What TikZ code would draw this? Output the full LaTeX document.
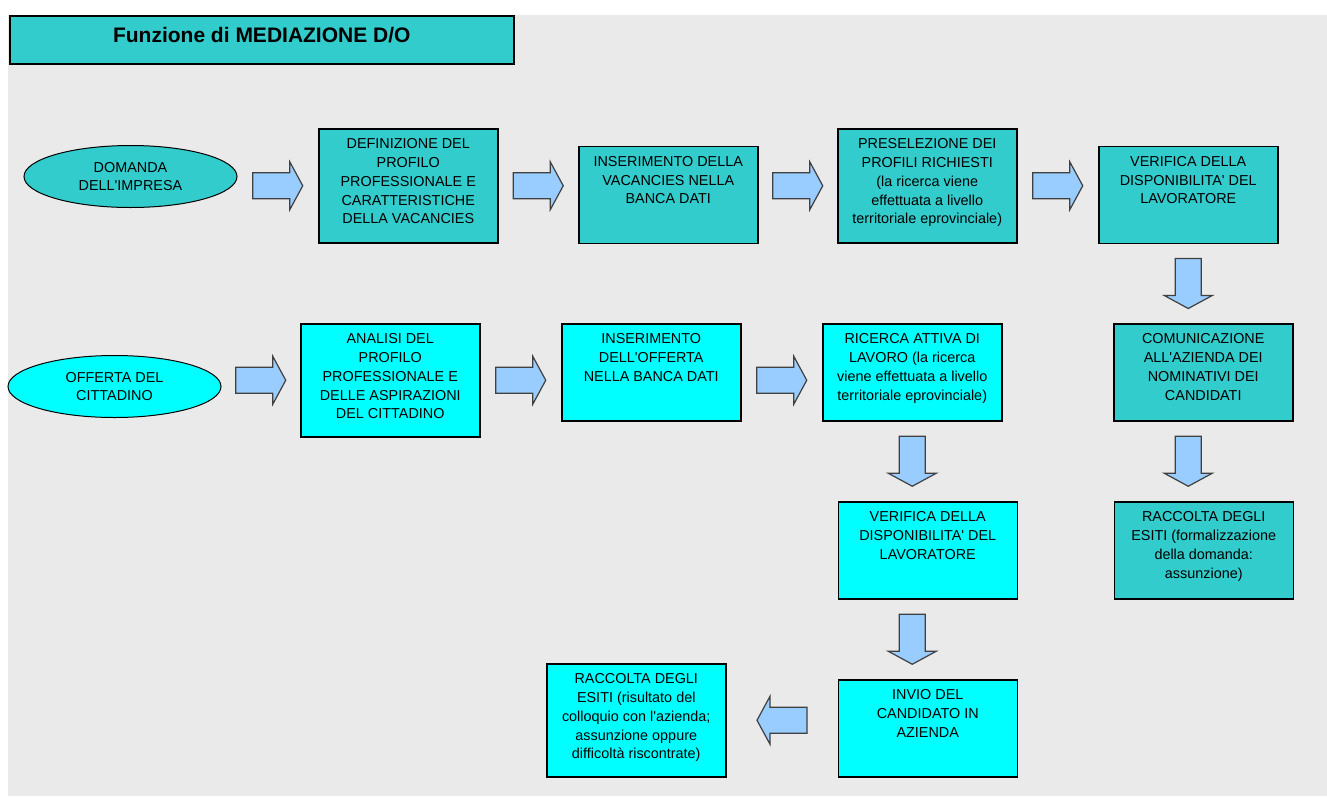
\documentclass[tikz,border=0pt]{standalone}
\usepackage{fontspec}
\setmainfont{Liberation Sans}
\usepackage{tikz}
\usetikzlibrary{calc,shapes.geometric}

\definecolor{tealbox}{RGB}{51,204,204}
\definecolor{cyanbox}{RGB}{0,255,255}
\definecolor{arrowblue}{RGB}{153,204,255}
\definecolor{bggray}{RGB}{234,234,234}

\begin{document}
\begin{tikzpicture}[x=1pt,y=-1pt,
  font=\fontsize{14.4}{18.8}\selectfont,
  stage/.style={draw, line width=1.5pt, anchor=north west, minimum width=179pt, minimum height=#1, inner sep=0pt},
  txt/.style={anchor=north, align=center, inner sep=0pt, yshift=-10.5pt},
  oval/.style={ellipse, draw, line width=1pt, minimum width=213pt, minimum height=62pt, inner sep=0pt, align=center},
  blockarrow/.pic={\draw[fill=arrowblue, draw=black!75, line width=1.2pt]
    (-25,-13) -- (12,-13) -- (12,-24) -- (25,0) -- (12,24) -- (12,13) -- (-25,13) -- cycle;}]
  \useasboundingbox (0,0) rectangle (1327,796);
  \fill[bggray] (8,15) rectangle (1327,796);

  % Title
  \node[stage=48pt, minimum width=504pt, fill=tealbox,
    label={[txt, yshift=-1.2pt, font=\bfseries\fontsize{21}{24}\selectfont]north:{Funzione di MEDIAZIONE D/O}}] (title) at (9,15) {};

  % Domanda dell'impresa
  \node[oval, fill=tealbox] (dom) at (130.5,176.5) {DOMANDA\\DELL\textquotesingle IMPRESA};
  \node[stage=114pt, fill=tealbox, label={[txt]north:{DEFINIZIONE DEL\\PROFILO\\PROFESSIONALE E\\CARATTERISTICHE\\DELLA VACANCIES}}] (def) at (318,128) {};
  \node[stage=97pt, fill=tealbox, label={[txt]north:{INSERIMENTO DELLA\\VACANCIES NELLA\\BANCA DATI}}] (vac) at (578,145.5) {};
  \node[stage=114pt, fill=tealbox, label={[txt]north:{PRESELEZIONE DEI\\PROFILI RICHIESTI\\(la ricerca viene\\effettuata a livello\\territoriale eprovinciale)}}] (pre) at (837,128) {};
  \node[stage=97pt, fill=tealbox, label={[txt]north:{VERIFICA DELLA\\DISPONIBILITA\textquotesingle{} DEL\\LAVORATORE}}] (ver) at (1098,145.5) {};
  \node[stage=97pt, fill=tealbox, label={[txt]north:{COMUNICAZIONE\\ALL\textquotesingle AZIENDA DEI\\NOMINATIVI DEI\\CANDIDATI}}] (com) at (1113,323) {};
  \node[stage=97pt, fill=tealbox, label={[txt]north:{RACCOLTA DEGLI\\ESITI (formalizzazione\\della domanda:\\assunzione)}}] (esa) at (1113.5,501) {};

  % Offerta del cittadino
  \node[oval, fill=cyanbox] (off) at (114.5,386.5) {OFFERTA DEL\\CITTADINO};
  \node[stage=113pt, fill=cyanbox, label={[txt]north:{ANALISI DEL\\PROFILO\\PROFESSIONALE E\\DELLE ASPIRAZIONI\\DEL CITTADINO}}] (ana) at (300,323) {};
  \node[stage=97pt, fill=cyanbox, label={[txt]north:{INSERIMENTO\\DELL\textquotesingle OFFERTA\\NELLA BANCA DATI}}] (odb) at (561,323) {};
  \node[stage=97pt, fill=cyanbox, label={[txt]north:{RICERCA ATTIVA DI\\LAVORO (la ricerca\\viene effettuata a livello\\territoriale eprovinciale)}}] (ric) at (822,323) {};
  \node[stage=97pt, fill=cyanbox, label={[txt]north:{VERIFICA DELLA\\DISPONIBILITA\textquotesingle{} DEL\\LAVORATORE}}] (disp) at (837.5,501) {};
  \node[stage=97pt, fill=cyanbox, label={[txt]north:{INVIO DEL\\CANDIDATO IN\\AZIENDA}}] (inv) at (837.5,679) {};
  \node[stage=113pt, fill=cyanbox, label={[txt]north:{RACCOLTA DEGLI\\ESITI (risultato del\\colloquio con l\textquotesingle azienda;\\assunzione oppure\\difficolt\`a riscontrate)}}] (esc) at (546,663) {};

  % Arrows along the rows
  \foreach \a/\b/\r in {dom/def/def, def/vac/def, vac/pre/def, pre/ver/def, off/ana/ana, ana/odb/ana, odb/ric/ana} {
    \coordinate (m) at ($(\a.east)!0.5!(\b.west)$);
    \pic at (m |- \r.east) {blockarrow};
  }

  % Arrows down the columns
  \foreach \a/\b/\c in {ver/com/ver, com/esa/ver, ric/disp/ric, disp/inv/ric} {
    \coordinate (m) at ($(\a.south)!0.5!(\b.north)$);
    \pic[rotate=-90] at (\c.south |- m) {blockarrow};
  }

  % Back to the results
  \coordinate (m) at ($(inv.west)!0.5!(esc.east)$);
  \pic[rotate=180] at (m |- esc.east) {blockarrow};
\end{tikzpicture}
\end{document}
